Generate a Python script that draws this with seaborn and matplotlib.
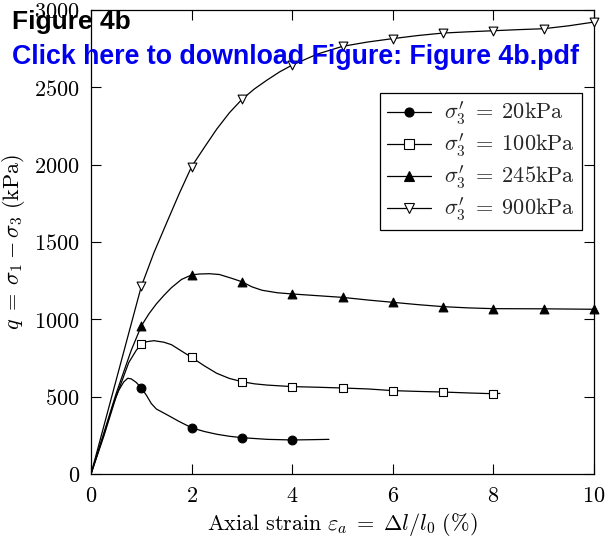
import numpy as np
import pandas as pd
import matplotlib
matplotlib.use("Agg")
import matplotlib.pyplot as plt
from matplotlib.lines import Line2D
from matplotlib.ticker import FuncFormatter
import seaborn as sns

# ---- data ----
labels = ["20kPa", "100kPa", "245kPa", "900kPa"]

c20_x = [0, 0.15, 0.3, 0.45, 0.55, 0.65, 0.73, 0.8, 0.9, 1.0, 1.1, 1.2, 1.3, 1.5, 1.75,
         2.0, 2.25, 2.5, 2.75, 3.0, 3.5, 4.0, 4.4, 4.73]
c20_q = [0, 150, 300, 460, 540, 595, 619, 615, 592, 556, 510, 455, 420, 385, 340,
         299, 275, 257, 244, 235, 224, 220, 222, 224]
m20_x = [1, 2, 3, 4]
m20_q = [556, 299, 235, 219]

c100_x = [0, 0.25, 0.5, 0.75, 0.9, 1.0, 1.1, 1.25, 1.45, 1.6, 1.8, 2.0, 2.25, 2.5, 2.75,
          3.0, 3.25, 3.5, 4.0, 4.5, 5.0, 5.5, 6.0, 6.5, 7.0, 7.5, 8.0, 8.13]
c100_q = [0, 240, 500, 720, 800, 838, 855, 862, 852, 836, 795, 754, 700, 651, 618,
          597, 583, 575, 565, 561, 556, 550, 539, 534, 530, 524, 519, 521]
m100_x = [1, 2, 3, 4, 5, 6, 7, 8]
m100_q = [838, 754, 597, 565, 554, 539, 530, 519]

c245_x = [0, 0.5, 0.8, 1.0, 1.15, 1.3, 1.45, 1.6, 1.8, 2.0, 2.15, 2.35, 2.55, 2.8, 3.0,
          3.2, 3.4, 3.7, 4.0, 4.5, 5.0, 5.5, 6.0, 6.5, 7.0, 7.5, 8.0, 9.0, 10.0]
c245_q = [0, 520, 800, 957, 1035, 1100, 1155, 1205, 1258, 1287, 1293, 1295, 1290, 1265, 1243,
          1210, 1188, 1172, 1164, 1153, 1142, 1125, 1110, 1095, 1082, 1074, 1069, 1068, 1065]
m245_x = [1, 2, 3, 4, 5, 6, 7, 8, 9, 10]
m245_q = [957, 1287, 1243, 1164, 1142, 1110, 1082, 1069, 1068, 1065]

c900_x = [0, 0.5, 1.0, 1.25, 1.5, 1.75, 2.0, 2.25, 2.5, 2.75, 3.0, 3.25, 3.5, 3.75, 4.0,
          4.5, 5.0, 5.5, 6.0, 6.5, 7.0, 7.5, 8.0, 8.5, 9.0, 9.5, 10.0]
c900_q = [0, 607, 1213, 1430, 1621, 1810, 1987, 2110, 2230, 2335, 2422, 2490, 2547, 2600, 2644,
          2715, 2765, 2793, 2815, 2835, 2851, 2859, 2866, 2873, 2879, 2898, 2922]
m900_x = [1, 2, 3, 4, 5, 6, 7, 8, 9, 10]
m900_q = [1213, 1987, 2422, 2644, 2765, 2815, 2851, 2866, 2879, 2922]

markers = ["o", "s", "^", "v"]
faces = ["black", "white", "black", "white"]

# ---- figure ----
sns.set_theme(style="ticks")
plt.rcParams["mathtext.fontset"] = "cm"
plt.rcParams["font.family"] = ["DejaVu Serif"]

fig = plt.figure(figsize=(6.06, 5.38), dpi=100)
ax = fig.add_axes([91 / 606, 64 / 538, 503 / 606, 464 / 538])

curves = [(c20_x, c20_q, m20_x, m20_q), (c100_x, c100_q, m100_x, m100_q),
          (c245_x, c245_q, m245_x, m245_q), (c900_x, c900_q, m900_x, m900_q)]

handles = []
for (cx, cq, mx, mq), lab, mk, fc in zip(curves, labels, markers, faces):
    dfc = pd.DataFrame({"x": cx, "q": cq})
    sns.lineplot(data=dfc, x="x", y="q", ax=ax, color="black", lw=0.9,
                 sort=False, estimator=None, legend=False)
    dfm = pd.DataFrame({"x": mx, "q": mq})
    sns.scatterplot(data=dfm, x="x", y="q", ax=ax, marker=mk, s=40,
                    facecolor=fc, edgecolor="black", linewidth=0.8,
                    legend=False, clip_on=False, zorder=5)
    handles.append(Line2D([0], [0], color="black", lw=0.9, marker=mk,
                          markersize=6.5, markerfacecolor=fc,
                          markeredgecolor="black", markeredgewidth=0.8,
                          label=r"$\sigma_3' \;=\; " + lab.replace("kPa", r"\mathrm{kPa}") + "$"))

ax.set_xlim(0, 10)
ax.set_ylim(0, 3000)
ax.set_xticks([0, 2, 4, 6, 8, 10])
ax.set_yticks([0, 500, 1000, 1500, 2000, 2500, 3000])
fmt = FuncFormatter(lambda v, p: f"${v:g}$")
ax.xaxis.set_major_formatter(fmt)
ax.yaxis.set_major_formatter(fmt)
ax.tick_params(direction="in", top=True, right=True, length=7.5, width=0.8,
               labelsize=16, color="black", labelcolor="black", pad=8)
for s in ax.spines.values():
    s.set_color("black")
    s.set_linewidth(0.9)

ax.set_xlabel(r"$\mathrm{Axial\ strain}\ \varepsilon_a \;=\; \Delta l/l_0\ \mathrm{(\%)}$",
              fontsize=16, color="black", labelpad=3)
ax.set_ylabel(r"$q \;=\; \sigma_1 - \sigma_3\ \mathrm{(kPa)}$", fontsize=16,
              color="black", labelpad=5)

leg = ax.legend(handles=handles, loc="upper right", bbox_to_anchor=(0.976, 0.821),
                borderaxespad=0, fontsize=16, frameon=True, fancybox=False,
                edgecolor="black", handlelength=2.0, borderpad=0.3,
                labelspacing=0.22, handletextpad=0.6, framealpha=1)
leg.get_frame().set_linewidth(0.9)

fig.text(12 / 606, 1 - 29 / 538, "Figure 4b", fontsize=19, fontweight="bold",
         color="black", family=["Liberation Sans"], va="baseline")
fig.text(12 / 606, 1 - 64 / 538, "Click here to download Figure: Figure 4b.pdf",
         fontsize=19.3, fontweight="bold", color="#0000ee", family=["Liberation Sans"],
         va="baseline")

fig.savefig("out.png", dpi=100)
